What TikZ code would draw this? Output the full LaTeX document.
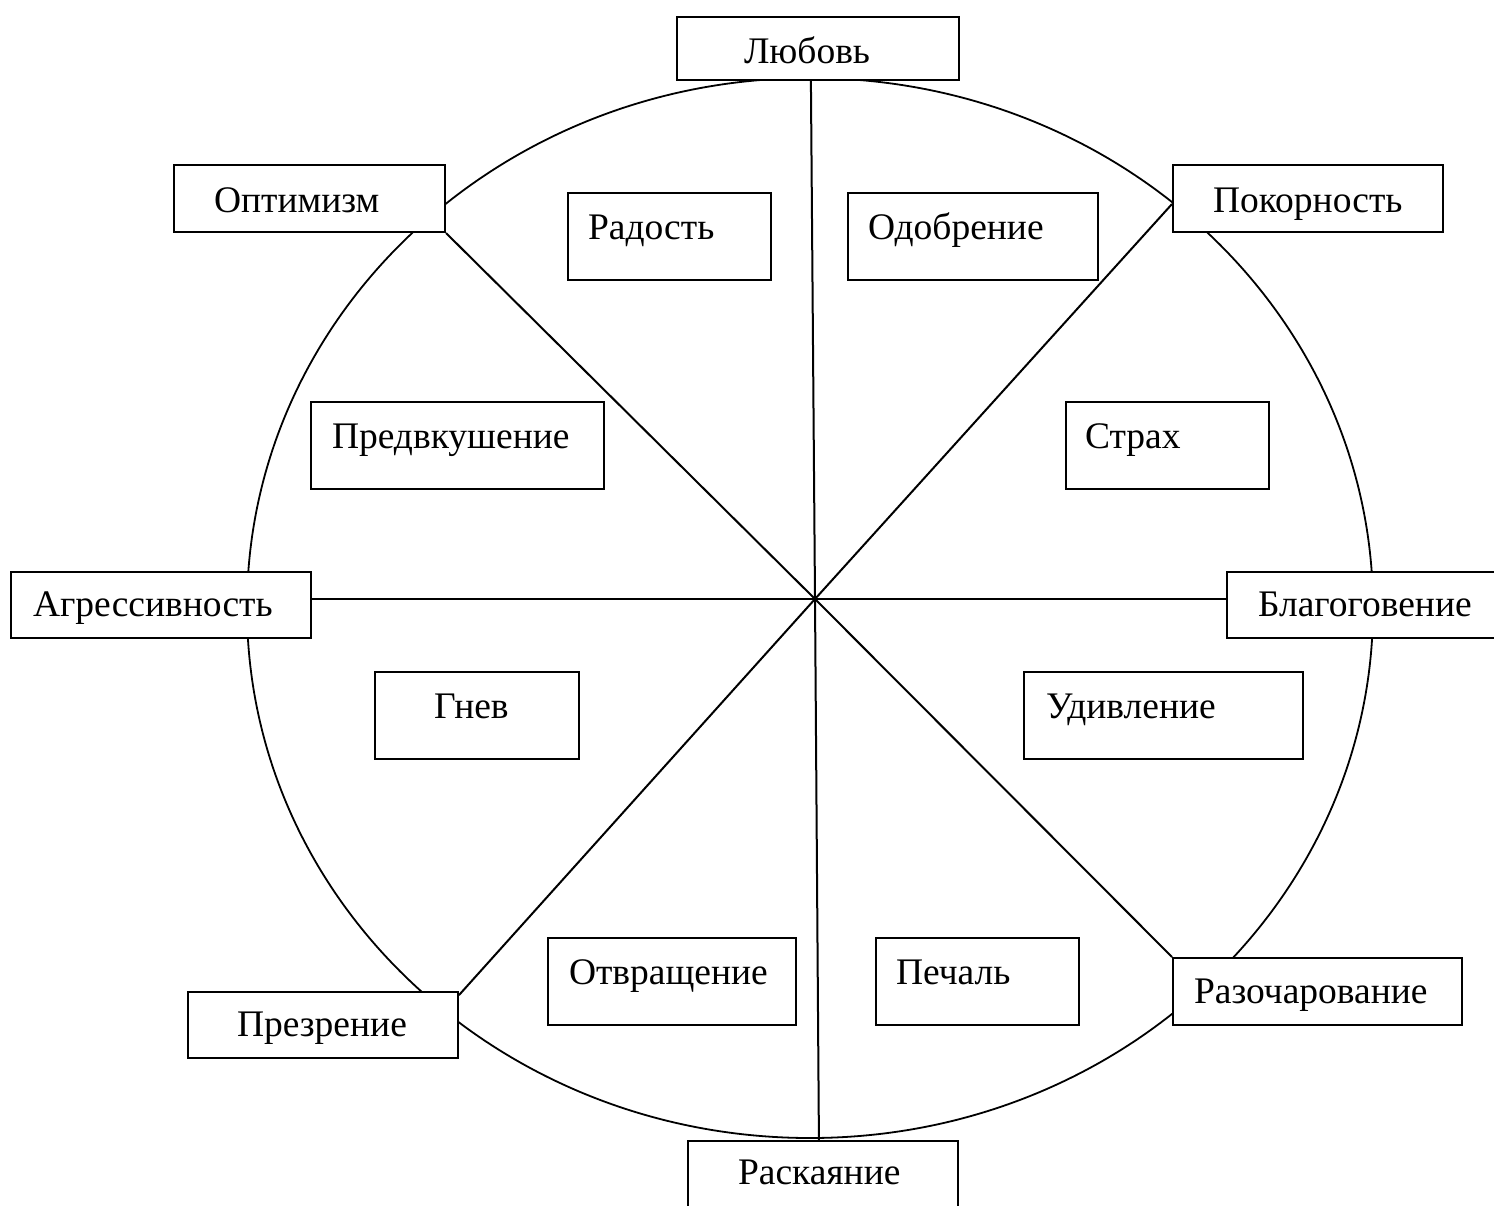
\documentclass[tikz,border=0pt]{standalone}
\usepackage{fontspec}
\setmainfont{Liberation Serif}
\usetikzlibrary{calc}
\newcommand{\emtext}[3]{\makebox[#1pt][l]{\hspace*{#2pt}#3}}
\tikzset{
  emobox/.style={draw, fill=white, line width=2pt, inner sep=0pt, anchor=north west,
    font=\fontsize{37.5}{45}\selectfont},
  outerbox/.style={emobox, text height=#1pt, text depth=22pt},
  innerbox/.style={emobox, text height=46pt, text depth=41pt},
  ln/.style={line width=2pt},
  rim/.style={line width=1.8pt}
}
\begin{document}
\begin{tikzpicture}[x=1pt, y=-1pt]
\useasboundingbox (0,0) rectangle (1494,1205);
\clip (0,0) rectangle (1494,1205);
\fill[white] (0,0) rectangle (1494,1205);
% wheel rim
\coordinate (rimc) at (810,608);
\draw[rim] (rimc) ellipse [x radius=563pt, y radius=530pt];
\coordinate (c) at (815,599);
% outer boxes
\node[emobox, text height=46pt, text depth=17pt] (love) at (676,16) {\emtext{282}{67}{Любовь}};
\node[outerbox=47, text depth=20pt] (opt) at (173,164) {\emtext{271}{40}{Оптимизм}};
\node[outerbox=47, text depth=20pt] (pok) at (1172,164) {\emtext{270}{40}{Покорность}};
\node[outerbox=44] (agg) at (10,571) {\emtext{300}{22}{Агрессивность}};
\node[outerbox=44] (bla) at (1226,571) {\emtext{284}{31}{Благоговение}};
\node[outerbox=44] (prez) at (187,991) {\emtext{270}{49}{Презрение}};
\node[outerbox=45] (razo) at (1172,957) {\emtext{289}{21}{Разочарование}};
\node[emobox, text height=43pt, text depth=40pt] (rask) at (687,1140) {\emtext{270}{50}{Раскаяние}};
% inner boxes
\node[innerbox] (joy) at (567,192) {\emtext{203}{20}{Радость}};
\node[innerbox] (appr) at (847,192) {\emtext{250}{20}{Одобрение}};
\node[innerbox] (antic) at (310,401) {\emtext{293}{21}{Предвкушение}};
\node[innerbox] (fear) at (1065,401) {\emtext{203}{19}{Страх}};
\node[innerbox] (anger) at (374,671) {\emtext{204}{59}{Гнев}};
\node[innerbox] (surpr) at (1023,671) {\emtext{279}{22}{Удивление}};
\node[innerbox] (disg) at (547,937) {\emtext{248}{21}{Отвращение}};
\node[innerbox] (sad) at (875,937) {\emtext{203}{20}{Печаль}};
% spokes
\draw[ln] (c) -- ($(love.south west)!0.475!(love.south east)$);
\draw[ln] (c) -- ($(rask.north west)!0.485!(rask.north east)$);
\draw[ln] (c) -- (agg.east |- c);
\draw[ln] (c) -- (bla.west |- c);
\draw[ln] (c) -- (opt.south east);
\draw[ln] (c) -- ($(pok.north west)!0.58!(pok.south west)$);
\draw[ln] (c) -- ($(prez.north east)!0.06!(prez.south east)$);
\draw[ln] (c) -- (razo.north west);
\end{tikzpicture}
\end{document}
